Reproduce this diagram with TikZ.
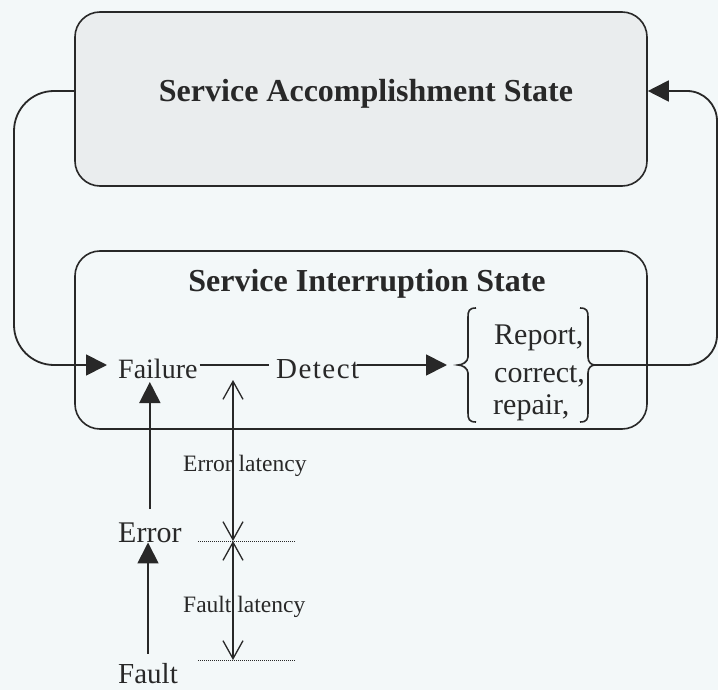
\documentclass[tikz,border=0pt]{standalone}
\usepackage{fontspec}
\setmainfont{Liberation Serif}
\usetikzlibrary{arrows.meta}
\definecolor{paper}{RGB}{243,248,249}
\definecolor{boxfill}{RGB}{234,237,238}
\definecolor{ink}{RGB}{40,40,40}

\begin{document}
\begin{tikzpicture}[x=1pt,y=-1pt,
  statebox/.style={draw=ink, line width=1.6pt, rounded corners=25pt, inner sep=0pt},
  boxtitle/.style={font=\fontsize{32}{32}\selectfont\bfseries, text=ink, inner sep=0pt, anchor=base},
  lbl/.style={font=\fontsize{28}{28}\selectfont, text=ink, inner sep=0pt, anchor=base west},
  biglbl/.style={font=\fontsize{30}{30}\selectfont, text=ink, inner sep=0pt, anchor=base west},
  smalllbl/.style={font=\fontsize{23.5}{23.5}\selectfont, text=ink, inner sep=0pt, anchor=base west},
  wire/.style={draw=ink, line width=1.8pt},
  solidtip/.style={-{Triangle[length=21pt,width=21pt]}},
  dim/.style={draw=ink, line width=1.3pt,
    {Straight Barb[length=18pt,width=20pt]}-{Straight Barb[length=18pt,width=20pt]}},
  level/.style={draw=ink, line width=1pt, dash pattern=on 1pt off 1pt},
  bracket/.style={draw=ink, line width=1.6pt}
]
% page
\fill[paper] (0,0) rectangle (718,690);
\useasboundingbox (0,0) rectangle (718,690);

% the two states
\node[statebox, fill=boxfill, minimum width=572pt, minimum height=174pt] (sas) at (361,99) {};
\node[boxtitle] (sastitle) at (366,102) {Service Accomplishment State};
\node[statebox, minimum width=572pt, minimum height=178pt] (sis) at (361,340) {};
\node[boxtitle] (sistitle) at (367,291) {Service Interruption State};

% events
\coordinate (m) at (0,365);
\node[lbl] (fail) at (118,378) {Failure};
\node[lbl, font=\fontsize{29}{29}\selectfont\addfontfeature{LetterSpace=5}] (det) at (276,378) {Detect};
\node[biglbl] (err) at (118,542) {Error};
\node[biglbl, font=\fontsize{29}{29}\selectfont] (flt) at (118,683) {Fault};

% recovery actions
\node[biglbl] (rep) at (494,344) {Report,};
\node[biglbl] (cor) at (494,382) {correct,};
\node[biglbl] (rpr) at (493,414) {repair,};

% braces round the actions
\coordinate (lbt) at (458,365);
\coordinate (rbt) at (595,365);
\draw[bracket] (476,308) .. controls (469,308) and (468,311) .. (468,317) -- (468,357)
  .. controls (468,362) and (462,365) .. (lbt)
  .. controls (462,365) and (468,368) .. (468,373) -- (468,413)
  .. controls (468,419) and (469,422) .. (476,422);
\draw[bracket] (580,308) .. controls (587,308) and (588,311) .. (588,317) -- (588,357)
  .. controls (588,362) and (591,365) .. (rbt)
  .. controls (591,365) and (588,368) .. (588,373) -- (588,413)
  .. controls (588,419) and (587,422) .. (580,422);

% main chain
\draw[wire] ([xshift=2pt]fail.east |- m) -- ([xshift=-7pt]det.west |- m);
\draw[wire, solidtip, shorten >=11pt] ([xshift=-2pt]det.east |- m) -- (lbt);

% feedback loops between the states
\draw[wire, solidtip, rounded corners=40pt] ([yshift=8pt]sas.west) -- (14,91) -- (14,365)
  -- ([xshift=-11pt]fail.west |- m);
\draw[wire, solidtip, rounded corners=30pt] (rbt) -- (717,365) -- (717,91)
  -- ([yshift=8pt]sas.east);

% causal chain
\draw[wire, solidtip] ([yshift=13pt]err.north) -- (err.north |- 0,382);
\draw[wire, solidtip] ([yshift=9pt]flt.north) -- (err.south -| flt.north);

% latencies
\coordinate (eltop) at (233,380);
\coordinate (errlvl) at (233,541);
\coordinate (fltlvl) at (233,660);
\draw[level] (198,541) -- (295,541);
\draw[level] (198,660) -- (295,660);
\node[smalllbl] (errlat) at (183,471) {Error latency};
\node[smalllbl] (fltlat) at (183,612) {Fault latency};
\draw[dim] (eltop) -- (errlvl);
\draw[dim] (errlvl) -- (fltlvl);
\end{tikzpicture}
\end{document}
